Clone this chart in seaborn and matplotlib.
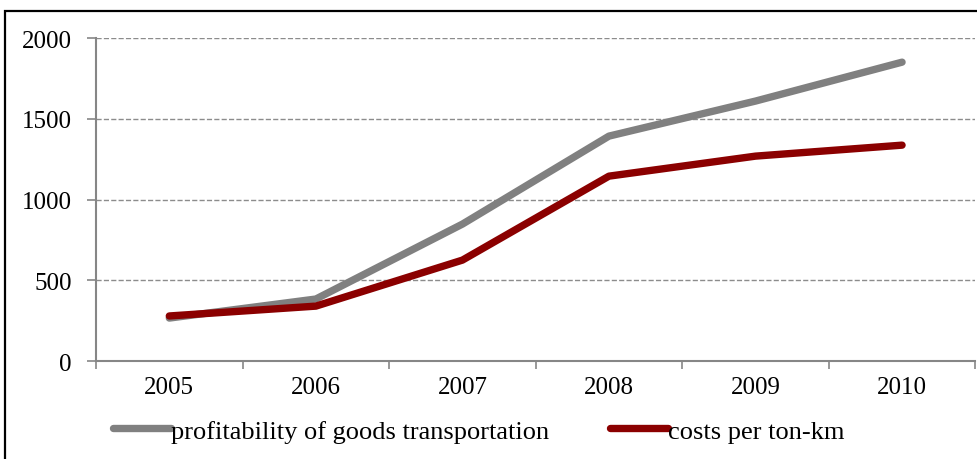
import pandas as pd
import matplotlib.pyplot as plt
import seaborn as sns
from matplotlib.patches import Rectangle

# values
years = ['2005', '2006', '2007', '2008', '2009', '2010']
profitability = [266, 384, 848, 1393, 1610, 1851]
costs = [279, 340, 625, 1145, 1269, 1337]
series_names = ['profitability of goods transportation', 'costs per ton-km']

data = pd.DataFrame({
    'pos': list(range(len(years))) * 2,
    'value': profitability + costs,
    'series': [series_names[0]] * len(years) + [series_names[1]] * len(years),
})

sns.set_style('white')
plt.rcParams['font.family'] = ['Liberation Serif', 'DejaVu Serif']
plt.rcParams['text.color'] = 'black'
plt.rcParams['lines.solid_capstyle'] = 'round'

fig = plt.figure(figsize=(9.77, 4.6), dpi=100)
ax = fig.add_axes([0.0983, 0.213, 0.900, 0.702])

sns.lineplot(data=data, x='pos', y='value', hue='series', hue_order=series_names,
             palette=['#808080', '#8b0000'], linewidth=5.3, ax=ax, legend=True)

ax.set_xlim(-0.5, len(years) - 0.5)
ax.set_ylim(0, 2000)
ax.set_yticks([0, 500, 1000, 1500, 2000])
ax.set_xticks(range(len(years)))
ax.set_xticklabels(years)
ax.set_xticks([i - 0.5 for i in range(len(years) + 1)], minor=True)
ax.tick_params(axis='x', which='major', bottom=True, length=0, labelsize=18, pad=11,
               labelcolor='black')
ax.tick_params(axis='x', which='minor', bottom=True, length=6, color='#868686', width=1.2, direction='out')
ax.tick_params(axis='y', left=True, length=6.5, color='#868686', width=1.2, labelsize=18,
               direction='out', pad=11, labelcolor='black')
ax.yaxis.grid(True, linestyle='--', color='#8c8c8c', linewidth=1)
ax.set_axisbelow(True)
ax.set_xlabel('')
ax.set_ylabel('')
for side in ['top', 'right']:
    ax.spines[side].set_visible(False)
for side in ['left', 'bottom']:
    ax.spines[side].set_color('#868686')
    ax.spines[side].set_linewidth(1.5)

ax.legend(loc='center left', bbox_to_anchor=(113 / 977, 0.061), bbox_transform=fig.transFigure,
          ncol=2, frameon=False, fontsize=19, handlelength=2.2, handletextpad=0.0,
          columnspacing=2.3, borderpad=0, borderaxespad=0)

# outer frame of the original figure box
fig.patches.append(Rectangle((5 / 977, -0.1), 1.2, 0.1 + (1 - 12 / 460), transform=fig.transFigure,
                             fill=False, edgecolor='black', linewidth=1.6))

fig.savefig('out.png', dpi=100)
